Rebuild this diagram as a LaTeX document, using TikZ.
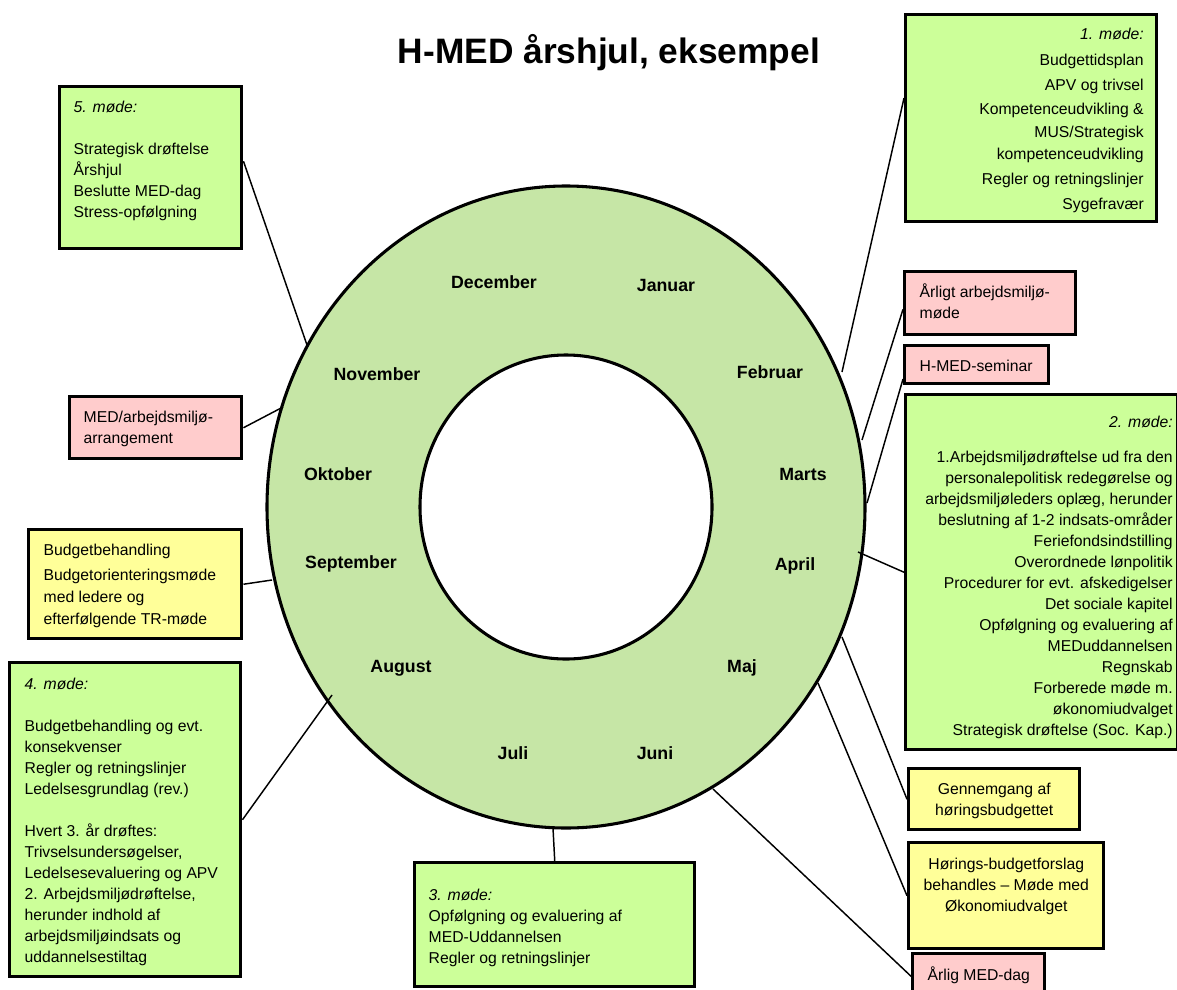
\documentclass[tikz,border=0pt]{standalone}
\usepackage{fontspec}
\setmainfont{Liberation Sans}
\usepackage{tikz}

\definecolor{ringgreen}{RGB}{198,230,166}
\definecolor{meetgreen}{RGB}{204,255,153}
\definecolor{eventpink}{RGB}{255,204,204}
\definecolor{budgetyellow}{RGB}{255,255,153}

\tikzset{
  mbox/.style={draw, line width=2.6pt, inner sep=0pt, anchor=north west,
    font=\fontsize{11.8}{15.75}\selectfont},
  gbox/.style={mbox, fill=meetgreen},
  pbox/.style={mbox, fill=eventpink},
  ybox/.style={mbox, fill=budgetyellow},
  month/.style={anchor=base, font=\bfseries\fontsize{13.3}{16}\selectfont},
  link/.style={line width=1.1pt},
  ringline/.style={line width=2.3pt}
}

% #1 left pad, #2 right pad, #3 box width, #4 box height, #5 top gap, #6 lines
\newcommand{\boxtext}[6]{\hspace*{#1}\begin{minipage}[t][#4][t]{\dimexpr#3-#1-#2\relax}\vspace*{#5}#6\end{minipage}\hspace*{#2}}

\begin{document}
\begin{tikzpicture}[x=0.75pt, y=-0.75pt]
\useasboundingbox (0,0) rectangle (1177,989);

\coordinate (hub) at (566,507);
\fill[ringgreen, even odd rule] (hub) ellipse [x radius=299, y radius=321]
		(hub) ellipse [x radius=146, y radius=152];
\draw[ringline] (hub) ellipse [x radius=299, y radius=321];
\draw[ringline] (hub) ellipse [x radius=146, y radius=152];

\node (title) [anchor=base, font=\bfseries\fontsize{26.5}{30}\selectfont] at (609,63) {H-MED årshjul, eksempel};

\path (494,288) node[month] (dec) {December}
		(666,291) node[month] (jan) {Januar}
		(770,378) node[month] (feb) {Februar}
		(803,480) node[month] (mar) {Marts}
		(795,570) node[month] (apr) {April}
		(742,672) node[month] (maj) {Maj}
		(655,759) node[month] (jun) {Juni}
		(513,759) node[month] (jul) {Juli}
		(401,672) node[month] (aug) {August}
		(351,568) node[month] (sep) {September}
		(338,480) node[month] (okt) {Oktober}
		(377,380) node[month] (nov) {November}
		;

\node (m1) [gbox] at (904,13) {\boxtext{3pt}{9.75pt}{188.25pt}{155.25pt}{7.5pt}{\raggedleft\strut
	\textit{1. møde:}\\[3.75pt]
	Budgettidsplan\\[3pt]
	APV og trivsel\\[2.25pt]
	Kompetenceudvikling \&\\[1.5pt]
	MUS/Strategisk\\[0.75pt]
	kompetenceudvikling\\[3pt]
	Regler og retningslinjer\\[3pt]
	Sygefravær}};
\node (aam) [pbox] at (903,270) {\boxtext{11.25pt}{3pt}{128.25pt}{47.25pt}{8.25pt}{\raggedright\strut
	Årligt arbejdsmiljø-\\ møde}};
\node (sem) [pbox] at (903,344) {\boxtext{11.25pt}{3pt}{108pt}{28.5pt}{8.25pt}{\raggedright\strut
	H-MED-seminar}};
\node (m2) [gbox] at (904,393) {\boxtext{3pt}{3.75pt}{204pt}{266.25pt}{13.5pt}{\raggedleft\strut
	\textit{2. møde:}\\[10.5pt]
	1.Arbejdsmiljødrøftelse ud fra den\\
	personalepolitisk redegørelse og\\
	arbejdsmiljøleders oplæg, herunder\\
	beslutning af 1-2 indsats-områder\\
	Feriefondsindstilling\\
	Overordnede lønpolitik\\
	Procedurer for evt. afskedigelser\\
	Det sociale kapitel\\
	Opfølgning og evaluering af\\
	MEDuddannelsen\\
	Regnskab\\
	Forberede møde m.\\
	økonomiudvalget\\
	Strategisk drøftelse (Soc. Kap.)}};
\node (gen) [ybox] at (907,767) {\boxtext{3pt}{3pt}{128.25pt}{45.75pt}{8.25pt}{\centering\strut
	Gennemgang af\\ høringsbudgettet}};
\node (hor) [ybox] at (907,841) {\boxtext{3pt}{3pt}{146.25pt}{79.5pt}{9pt}{\centering\strut
	Hørings-budgetforslag\\ behandles – Møde med\\ Økonomiudvalget}};
\node (dag) [pbox] at (911,952) {\boxtext{3pt}{3pt}{99pt}{33.75pt}{9pt}{\centering\strut
	Årlig MED-dag}};
\node (m3) [gbox] at (413,861) {\boxtext{10.5pt}{3pt}{210pt}{93pt}{17.25pt}{\raggedright\strut
	\textit{3. møde:}\\
	Opfølgning og evaluering af\\
	MED-Uddannelsen\\
	Regler og retningslinjer}};
\node (m4) [gbox] at (8,661) {\boxtext{11.25pt}{3pt}{173.25pt}{235.5pt}{9pt}{\raggedright\strut
	\textit{4. møde:}\\[15.75pt]
	Budgetbehandling og evt.\\
	konsekvenser\\
	Regler og retningslinjer\\
	Ledelsesgrundlag (rev.)\\[15.75pt]
	Hvert 3. år drøftes:\\
	Trivselsundersøgelser,\\
	Ledelsesevaluering og APV\\
	2. Arbejdsmiljødrøftelse,\\
	herunder indhold af\\
	arbejdsmiljøindsats og\\
	uddannelsestiltag}};
\node (bud) [ybox] at (27,528) {\boxtext{11.25pt}{3pt}{159.75pt}{81.75pt}{8.25pt}{\raggedright\strut
	Budgetbehandling\\[3pt]
	Budgetorienteringsmøde\\[0.75pt]
	med ledere og\\[0.75pt]
	efterfølgende TR-møde}};
\node (arr) [pbox] at (68,395) {\boxtext{10.5pt}{3pt}{129pt}{46.5pt}{8.25pt}{\raggedright\strut
	MED/arbejdsmiljø-\\ arrangement}};
\node (m5) [gbox] at (58,85) {\boxtext{10.5pt}{3pt}{136.5pt}{121.5pt}{8.25pt}{\raggedright\strut
	\textit{5. møde:}\\[15.75pt]
	Strategisk drøftelse\\
	Årshjul\\
	Beslutte MED-dag\\
	Stress-opfølgning}};

\path (842,372) coordinate (r1)
		(862,440) coordinate (raam)
		(867,503) coordinate (rsem)
		(858,552) coordinate (r2)
		(842,637) coordinate (rgen)
		(818,683) coordinate (rhor)
		(713,789) coordinate (rdag)
		(553,828) coordinate (r3)
		(332,695) coordinate (r4)
		(272,580) coordinate (rbud)
		(283,407) coordinate (rarr)
		(307,345) coordinate (r5)
		;
\draw[link] (node cs:name=m1, angle=171) -- (r1);
\draw[link] (node cs:name=aam, angle=184) -- (raam);
\draw[link] (node cs:name=sem, angle=191) -- (rsem);
\draw[link] (node cs:name=m2, anchor=west) -- (r2);
\draw[link] (node cs:name=gen, anchor=west) -- (rgen);
\draw[link] (node cs:name=hor, anchor=west) -- (rhor);
\draw[link] (node cs:name=dag, anchor=west) -- (rdag);
\draw[link] (node cs:name=m3, anchor=north) -- (r3);
\draw[link] (node cs:name=m4, anchor=east) -- (r4);
\draw[link] (node cs:name=bud, anchor=east) -- (rbud);
\draw[link] (node cs:name=arr, anchor=east) -- (rarr);
\draw[link] (node cs:name=m5, angle=4) -- (r5);
\end{tikzpicture}
\end{document}
